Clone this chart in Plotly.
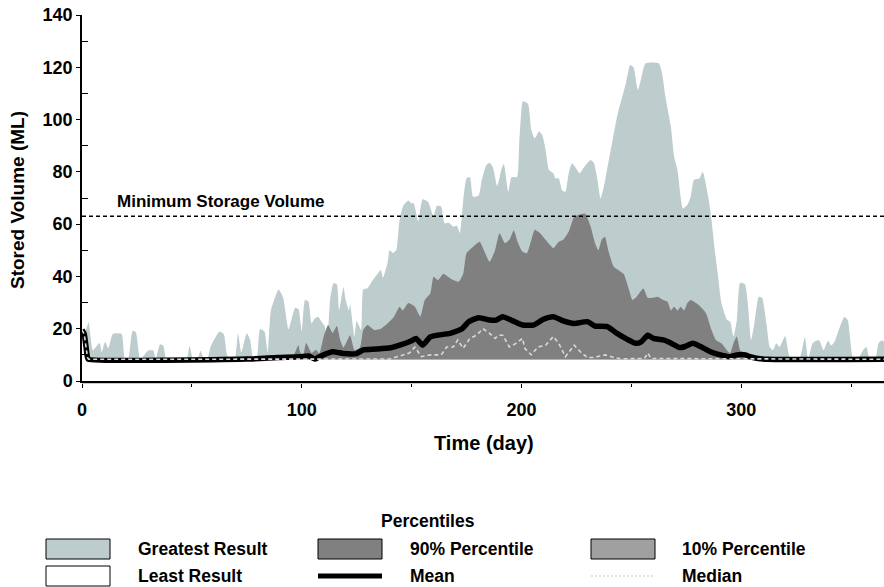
import plotly.graph_objects as go

# ---------------- data ----------------
greatest_days = [0, 1, 2, 3, 5, 8, 9, 10.5, 12, 14, 18, 19.5, 21, 23, 24.5, 26.5, 30, 32.5, 33.5, 35.5,
                 37, 38.5, 47.5, 49, 50.5, 52.5, 54, 55.5, 57, 58.5, 62.5, 64.5, 66, 67.5, 69.5, 71, 72.5,
                 75, 76.5, 78, 79.5, 81, 83, 84.5, 86, 89.5, 91.5, 94, 97, 98.5, 100, 101.5, 103, 104.5,
                 106, 107.5, 109, 110.5, 111.5, 113, 114.5, 116, 117, 119, 120, 121.5, 122, 124, 125, 127,
                 128, 130, 131.5, 134.5, 136, 137, 139, 140, 141.5, 143, 144.5, 146, 148.5, 150, 151, 153,
                 155, 157.5, 160, 161.5, 163.5, 165, 167, 169, 170.5, 172, 173.5, 175, 176.5, 178, 180.5,
                 182, 184, 185.5, 187, 189, 191, 192, 194, 195.5, 198, 199, 200.5, 201, 203, 204.5, 206,
                 208, 209.5, 211, 212.5, 214.5, 215.5, 217, 218.5, 220, 221.5, 223, 224.5, 226.5, 228.5,
                 231.5, 233, 234.5, 236, 237.5, 239.5, 241.5, 244, 245.5, 247.5, 249.5, 251, 253, 254.5,
                 256.5, 262.5, 264, 265.5, 268, 269.5, 271, 273.5, 275.5, 277, 278.5, 281, 282.5, 285,
                 286.5, 288, 289.5, 291, 293.5, 295, 296.5, 298, 299.5, 301.7, 303, 304.5, 306, 308, 309.5,
                 311.5, 313, 314.5, 316, 317.5, 320, 322, 323.5, 326.5, 329, 330.5, 332.5, 334, 335.5,
                 337.5, 339.5, 341, 342.5, 345, 347, 348.5, 351, 353, 355.5, 357, 358.5, 361, 362.5, 364, 365]
greatest_vals = [20, 18, 20, 22.5, 11.8, 14.5, 11, 15, 12.5, 18, 18, 8.5, 8.3, 19.2, 18.7, 8.3, 11.6, 11.6, 8.3, 14,
                 13.5, 8.3, 8.3, 13.5, 8.3, 8.3, 11.6, 8.3, 8.3, 13, 18.9, 18, 10, 8.3, 8.3, 18.3, 11,
                 18.3, 15.8, 8.3, 8.3, 19.8, 19, 11, 27, 35, 32, 19.8, 28, 27.5, 19, 31, 30.5, 22,
                 24, 24.6, 22.7, 20.8, 13, 31.8, 37.5, 37, 27, 36, 31, 27, 29.5, 17, 23, 19.5,
                 35, 35.5, 37.5, 41, 42.5, 39.5, 45, 50, 49, 50, 61.5, 66.7, 69, 68, 68, 61,
                 69.5, 68.5, 63, 67, 66.7, 60.3, 60.5, 59, 59.5, 56.6, 69, 77.5, 78, 70.5, 71,
                 77, 82.6, 83.5, 81.8, 74.6, 81.3, 83, 72.4, 78, 78, 91, 106.9, 107, 106, 96, 92.8,
                 95.4, 94, 88.4, 80.7, 79.5, 77.5, 77.5, 73, 72.4, 79.5, 83.3, 81.8, 79.5, 81.8,
                 84.5, 83.3, 77.5, 69.8, 74.3, 83.3, 92.2, 103, 107.5, 113.8, 120.9, 120, 111.3, 115.8,
                 121.5, 121.5, 117.7, 108.8, 97.3, 85.8, 80.7, 66, 67.3, 70.5, 77, 77.5, 80, 70.5,
                 61.6, 50, 39.9, 29.8, 23.4, 22.7, 17, 23, 37.5, 37, 29.8, 15.7, 22, 32.2, 31.8,
                 22, 13, 11.8, 14.4, 13, 17.2, 9.3, 8.3, 8.3, 16.7, 8.3, 14.4, 15.4, 15.6,
                 11.8, 15.4, 13.6, 15, 20.8, 24.6, 23.3, 8.3, 8.3, 11.8, 13, 8.3, 8.3, 14.4, 15.6, 15]

p90_days = [0, 1, 2.5, 3, 85, 95, 97, 98.5, 99, 100.5, 102, 104.5, 106.5, 108, 110, 112, 114, 116, 117.5,
            119, 122, 124, 126.5, 128, 130, 133, 136, 139, 142, 144.5, 146, 148.5, 151.5, 154, 156, 158.5,
            160, 162, 164.5, 166.5, 169, 171.5, 173.5, 175, 178, 181, 183.5, 185.5, 188, 190, 192.5, 194.5,
            196.5, 198.5, 200.5, 202.5, 204.5, 206, 208.5, 211, 213, 214.5, 217, 219, 221.5, 224, 226, 229,
            231.5, 233.5, 235, 236.5, 238, 239.5, 242, 244, 246.5, 249, 250.5, 252, 255.5, 257.5, 260, 262,
            264.5, 266.5, 268, 269.5, 271, 272.5, 274, 275.5, 277, 279.5, 281.5, 284, 286.5, 288.5, 291,
            293.5, 295, 296.5, 298, 299.5, 301.5, 303, 305, 365]
p90_vals = [19.5, 18, 9, 8.3, 8.3, 8.5, 11, 13.8, 11.9, 9, 14.5, 10.7, 12, 10.5, 17, 21.4, 18.4, 21, 15.7,
            12.8, 17.5, 11.8, 12.8, 19.5, 21.4, 19.5, 20, 22, 24.6, 28.4, 27, 29.8, 28.4, 24.6, 31, 33.5,
            39.9, 38.6, 41, 39.9, 38.6, 38, 41, 48.9, 51.4, 53.3, 48.9, 45.6, 50, 56.5, 52.7, 54,
            57.6, 52.7, 49.4, 48.9, 54, 57.8, 56.5, 54, 52, 50.8, 53.3, 54, 57.1, 62.8, 63.5, 64,
            59, 52.7, 50, 54, 55.2, 50, 43.7, 42.5, 41, 34.8, 31, 31.8, 35.4, 31.8, 31.8, 32.2,
            31, 30.3, 27, 28.4, 27, 28.4, 27, 29.8, 31, 29.8, 28.4, 25.9, 19.5, 15.7, 14.4,
            11.8, 10.7, 14.4, 17, 11.8, 10, 8.5, 8.3, 8.3]

p10_days = [0, 1, 2.5, 3, 365]
p10_vals = [19.3, 17.8, 8.8, 8.3, 8.3]

least_days = [0, 1, 2.5, 3, 365]
least_vals = [19, 17.5, 8.5, 8.1, 8.1]

mean_days = [0, 1, 2.5, 3, 75, 89, 99, 103, 106, 108, 114, 119, 125, 128, 134, 140.5, 145, 150, 152, 155,
             158.5, 161.5, 167.5, 173, 176, 180.5, 185.5, 188.5, 191.5, 196, 200.5, 205.5, 210, 214.5, 219,
             224, 230, 233.5, 239, 243.5, 248, 252, 254.5, 257.5, 260, 264.5, 267.5, 272, 274.5, 278,
             281.5, 286, 290.5, 295, 298, 302, 304, 307, 312, 365]
mean_vals = [19.5, 18, 9, 8.3, 8.4, 9, 9.3, 9.6, 8.4, 9.3, 11.2, 10.5, 10.5, 11.9, 12.2, 12.7, 13.8, 15.4, 16.3, 13.7,
             16.9, 17.5, 18.2, 20, 22.7, 24.2, 23.3, 23.3, 24.6, 23, 21.4, 21.4, 23.6, 24.6, 23,
             22, 22.7, 21, 20.8, 18.2, 16, 14.4, 15, 17.5, 16.3, 15.7, 14.7, 12.8, 13.2, 14.4,
             13.2, 11.2, 10, 9.3, 10, 10, 9.3, 8.7, 8.3, 8.3]

median_days = [0, 1, 2.5, 3, 140, 146, 149, 151.5, 154.5, 158.5, 163.5, 166, 169, 171, 173.5, 176.5, 179.5,
               182.5, 185.5, 188, 189.5, 191.5, 194.5, 197.5, 200.5, 201.5, 204.5, 207.5, 211, 214.5, 217,
               220, 224, 227, 230, 233, 238, 242, 245, 256, 257.5, 259, 365]
median_vals = [19.5, 18, 9, 8.3, 8.4, 10, 10.7, 13, 9.3, 10, 10, 13, 13, 15.7, 12.5, 16.3, 17.5,
               20, 18.2, 16.3, 17.5, 17.5, 13, 14.4, 16.3, 12.5, 10, 13, 13.7, 17, 14.4,
               9.3, 13.7, 11, 9, 9, 10, 9, 8.5, 8.6, 10.7, 8.6, 8.3]

min_storage = 63
min_storage_label = "Minimum Storage Volume"

x_ticks = [0, 100, 200, 300]
y_ticks = [0, 20, 40, 60, 80, 100, 120, 140]

legend_items = [
    ("Greatest Result", "box", "#bdcccc"),
    ("90% Percentile", "box", "#808080"),
    ("10% Percentile", "box", "#a0a0a0"),
    ("Least Result", "box", "#ffffff"),
    ("Mean", "line", "#000000"),
    ("Median", "dot", "#c8c8c8"),
]

# ---------------- figure ----------------
FONT = "Liberation Sans, Arial, sans-serif"
W, H = 884, 587
L, R, T, B = 82, 0, 15, 206
PW, PH = W - L - R, H - T - B


def px2x(px):
    return (px - L) / PW


def py2y(py):
    return (H - B - py) / PH


SMOOTH = dict(shape="spline", smoothing=0.5)

fig = go.Figure()
fig.add_trace(go.Scatter(x=greatest_days, y=greatest_vals, mode="lines", fill="tozeroy",
                         fillcolor="#bdcccc", line=dict(width=0, color="#bdcccc", **SMOOTH),
                         name="Greatest Result"))
fig.add_trace(go.Scatter(x=p90_days, y=p90_vals, mode="lines", fill="tozeroy",
                         fillcolor="#808080", line=dict(width=0, color="#808080", **SMOOTH),
                         name="90% Percentile"))
fig.add_trace(go.Scatter(x=p10_days, y=p10_vals, mode="lines", fill="tozeroy",
                         fillcolor="#a0a0a0", line=dict(width=0, color="#a0a0a0"), name="10% Percentile"))
fig.add_trace(go.Scatter(x=least_days, y=least_vals, mode="lines", fill="tozeroy",
                         fillcolor="#ffffff", line=dict(width=0, color="#ffffff"), name="Least Result"))
fig.add_trace(go.Scatter(x=mean_days, y=mean_vals, mode="lines",
                         line=dict(width=5.5, color="#000000", **SMOOTH), name="Mean"))
fig.add_trace(go.Scatter(x=median_days, y=median_vals, mode="lines",
                         line=dict(width=1.6, color="#d8d8d8", dash="4px,3px"), name="Median"))

# minimum storage line
fig.add_shape(type="line", xref="paper", yref="y", x0=0, x1=1, y0=min_storage, y1=min_storage,
              line=dict(color="#000000", width=1.4, dash="4px,3px"))
fig.add_annotation(xref="x", yref="y", x=15.5, y=min_storage + 1.6, text=min_storage_label,
                   showarrow=False, xanchor="left", yanchor="bottom", borderpad=0,
                   font=dict(family=FONT, size=17, color="#000000", weight="bold"))

# light line under x axis
fig.add_shape(type="line", xref="paper", yref="paper", x0=0, x1=1, y0=py2y(383.5), y1=py2y(383.5),
              line=dict(color="#c8c8c8", width=1))

# axis titles
fig.add_annotation(xref="paper", yref="paper", x=px2x(484), y=py2y(443), text="Time (day)",
                   showarrow=False, xanchor="center", yanchor="middle",
                   font=dict(family=FONT, size=20, color="#000000", weight="bold"))
fig.add_annotation(xref="paper", yref="paper", x=px2x(17), y=py2y(200), text="Stored Volume (ML)",
                   showarrow=False, xanchor="center", yanchor="middle", textangle=-90,
                   font=dict(family=FONT, size=19, color="#000000", weight="bold"))

# legend (drawn manually)
fig.add_annotation(xref="paper", yref="paper", x=px2x(428), y=py2y(521), text="Percentiles",
                   showarrow=False, xanchor="center", yanchor="middle",
                   font=dict(family=FONT, size=17.5, color="#000000", weight="bold"))
col_sw = [46, 318, 591]
col_tx = [137, 409, 681]
row_y = [549, 576]
for i, (label, kind, color) in enumerate(legend_items):
    r, c = divmod(i, 3)
    cy = row_y[r]
    x0, x1 = col_sw[c], col_sw[c] + 64
    if kind == "box":
        fig.add_shape(type="rect", xref="paper", yref="paper",
                      x0=px2x(x0), x1=px2x(x1), y0=py2y(cy + 10), y1=py2y(cy - 10),
                      fillcolor=color, line=dict(color="#000000", width=1))
    elif kind == "line":
        fig.add_shape(type="line", xref="paper", yref="paper",
                      x0=px2x(x0), x1=px2x(x1), y0=py2y(cy), y1=py2y(cy),
                      line=dict(color=color, width=5))
    else:
        fig.add_shape(type="line", xref="paper", yref="paper",
                      x0=px2x(x0), x1=px2x(x1), y0=py2y(cy), y1=py2y(cy),
                      line=dict(color=color, width=1.2, dash="2px,2px"))
    fig.add_annotation(xref="paper", yref="paper", x=px2x(col_tx[c]), y=py2y(cy), text=label,
                       showarrow=False, xanchor="left", yanchor="middle", borderpad=0,
                       font=dict(family=FONT, size=17.5, color="#000000", weight="bold"))

fig.update_layout(
    width=W, height=H,
    margin=dict(l=L, r=R, t=T, b=B, autoexpand=False),
    paper_bgcolor="#ffffff", plot_bgcolor="#ffffff",
    showlegend=False,
    font=dict(family=FONT, color="#000000"),
    xaxis=dict(range=[0, 365], tickvals=x_ticks, ticks="outside", ticklen=5, tickwidth=1,
               tickcolor="#000000", showline=True, linecolor="#000000", linewidth=1.5,
               showgrid=False, zeroline=False, ticklabelstandoff=7, automargin=False,
               tickfont=dict(family=FONT, size=18, color="#000000", weight="bold"),
               minor=dict(tickvals=[50, 150, 250, 350], ticks="outside", ticklen=4,
                          tickcolor="#000000", showgrid=False)),
    yaxis=dict(range=[0, 140], tickvals=y_ticks, ticks="outside", ticklen=4, tickwidth=1,
               tickcolor="#000000", showline=True, linecolor="#000000", linewidth=1.5,
               showgrid=False, zeroline=False, automargin=False,
               tickfont=dict(family=FONT, size=18, color="#000000", weight="bold"),
               minor=dict(tickvals=[10, 30, 50, 70, 90, 110, 130], ticks="inside", ticklen=6,
                          tickcolor="#000000", showgrid=False)),
)

fig.write_html("out.html", config={"displayModeBar": False},
               post_script="document.body.style.margin='0px';document.body.style.overflow='hidden';")
